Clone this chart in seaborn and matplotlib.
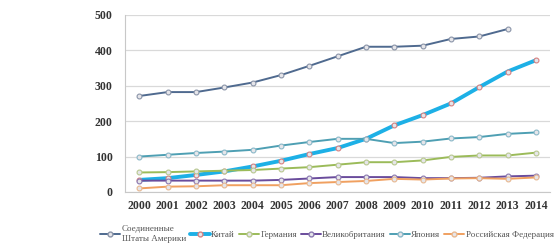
import numpy as np
import pandas as pd
import matplotlib
matplotlib.use("Agg")
import matplotlib.pyplot as plt
from matplotlib.lines import Line2D
import seaborn as sns

years = list(range(2000, 2015))

usa = [271, 282, 282, 295, 309, 330, 356, 383, 410, 410, 413, 432, 439, 460, np.nan]
china = [34, 39, 48, 58, 72, 88, 107, 124, 150, 188, 217, 250, 296, 340, 372]
germany = [55, 56, 58, 60, 62, 66, 70, 77, 84, 84, 89, 99, 103, 103, 111]
uk = [32, 32, 32, 32, 32, 34, 38, 42, 42, 42, 39, 39, 40, 44, 46]
japan = [100, 105, 110, 114, 119, 131, 141, 150, 150, 138, 142, 151, 155, 164, 168]
russia = [10, 15, 16, 19, 19, 19, 25, 28, 31, 37, 35, 38, 39, 37, 41]

labels = ["Соединенные\nШтаты Америки", "Китай", "Германия",
          "Великобритания", "Япония", "Российская Федерация"]
series = [usa, china, germany, uk, japan, russia]

colors = ["#4f6a8f", "#1db0e6", "#9bbb59", "#6a4c9c", "#4e9fb3", "#f0a060"]
edge = ["#8a94a8", "#d88080", "#b8c890", "#8a78b0", "#8ab8c8", "#e8b890"]
widths = [1.4, 2.8, 1.4, 1.4, 1.4, 1.4]

df = pd.DataFrame({"year": years})
for lab, vals in zip(labels, series):
    df[lab] = vals
long_df = df.melt(id_vars="year", var_name="country", value_name="value")

sns.set_style("white")
plt.rcParams["font.family"] = ["Liberation Serif", "DejaVu Serif"]

fig = plt.figure(figsize=(5.59, 2.48), dpi=100)
ax = fig.add_axes([0.224, 0.226, 0.76, 0.714])

for lab, c, e, w in zip(labels, colors, edge, widths):
    sub = long_df[long_df["country"] == lab].dropna()
    sns.lineplot(data=sub, x="year", y="value", ax=ax, color=c, linewidth=w,
                 marker="o", markersize=3.5, markerfacecolor="#e6e6ea",
                 markeredgecolor=e, markeredgewidth=0.8)

ax.set_xlim(1999.5, 2014.5)
ax.set_ylim(0, 500)
ax.set_yticks([0, 100, 200, 300, 400, 500])
ax.set_xticks(years)
ax.set_xticks(np.arange(1999.5, 2015, 1), minor=True)
ax.yaxis.grid(True, color="#d9d9d9", linewidth=0.9)
ax.xaxis.grid(False)
for s in ["top", "right"]:
    ax.spines[s].set_visible(False)
ax.spines["left"].set_color("#c8c8c8")
ax.spines["bottom"].set_color("#c8c8c8")
ax.tick_params(axis="x", which="major", length=0, pad=6)
ax.tick_params(axis="x", which="minor", length=4, color="#c8c8c8", direction="out")
ax.tick_params(axis="y", length=0, pad=9)
ax.set_xlabel("")
ax.set_ylabel("")
for t in ax.get_xticklabels() + ax.get_yticklabels():
    t.set_fontsize(8.5)
    t.set_fontweight("bold")
    t.set_color("#333333")

handles = [Line2D([0], [0], color=c, linewidth=w, marker="o", markersize=3.5,
                  markerfacecolor="#e6e6ea", markeredgecolor=e)
           for c, e, w in zip(colors, edge, widths)]
fig.legend(handles, labels, loc="lower right", bbox_to_anchor=(1.0, 0.0),
           ncol=6, frameon=False, fontsize=6.5, handlelength=2.2,
           handletextpad=0.15, columnspacing=0.45, labelcolor="#555555",
           borderaxespad=0.2)

fig.savefig("out.png", dpi=100)
